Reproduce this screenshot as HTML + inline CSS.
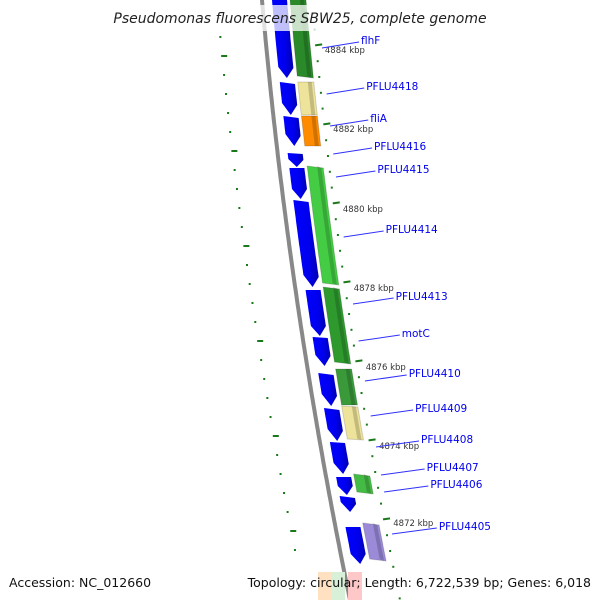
<!DOCTYPE html>
<html><head><meta charset="utf-8"><style>
body{margin:0;background:#fff;}
svg{display:block;font-family:"DejaVu Sans","Liberation Sans",sans-serif;}
</style></head><body>
<svg id="map" width="600" height="600" viewBox="0 0 600 600">
<defs>
<linearGradient id="gb" x1="0" x2="1"><stop offset="0" stop-color="#0000ff"/><stop offset="0.6" stop-color="#0000ee"/><stop offset="1" stop-color="#0000b0"/></linearGradient>
</defs>
<g id="layer"></g>
<rect x="110" y="5" width="380" height="26" fill="#fff" opacity="0.75"/>
<text x="300" y="23" text-anchor="middle" font-size="14" font-style="italic" fill="#222">Pseudomonas fluorescens SBW25, complete genome</text>
<text x="9" y="587" font-size="12.5" fill="#111">Accession: NC_012660</text>
<text x="591" y="587" text-anchor="end" font-size="12.5" fill="#111">Topology: circular; Length: 6,722,539 bp; Genes: 6,018</text>
</svg>
<script>
const geneStarts=[-5,82,116,153,168,200,290,337,373,408,442,477,496,527];
const geneEnds=[78,115,146,167,199,287,336,366,406,441,474,495,512,564];
const featStarts=[-5,82,116,166,287,369,406,474,523];
const featEnds=[78,115,146,285,364,405,440,494,561];
const featColors=["#2a8a2a","#eee39a","#ff8c00","#44cc44","#2e9a2e","#3a9a3a","#eee39a","#44bb44","#9a8ad8"];
const labels=["flhF","PFLU4418","fliA","PFLU4416","PFLU4415","PFLU4414","PFLU4413","motC","PFLU4410","PFLU4409","PFLU4408","PFLU4407","PFLU4406","PFLU4405"];
const labelY=[44,90,122,150,173,233,300,337,377,412,443,471,488,530];
const kbpLabels=["4884 kbp","4882 kbp","4880 kbp","4878 kbp","4876 kbp","4874 kbp","4872 kbp"];
const kbpY=[53,132,212,291,370,449,526];
const NS="http://www.w3.org/2000/svg";
const L=document.getElementById('layer');
function X(y){return 262+0.0867*y+0.0001*y*y;}
function mk(t,a){const e=document.createElementNS(NS,t);for(const k in a)e.setAttribute(k,a[k]);L.appendChild(e);return e;}
// backbone
let d="";for(let y=-5;y<=605;y+=5){d+=(y<0?"M":"L")+(X(y)).toFixed(1)+","+y+" ";}
let bb=mk('path',{d:d,stroke:"#888",'stroke-width':4,fill:"none"});


function band(y0,y1,o0,o1,arrow){
  let pts=[];
  const tip=arrow?Math.min(10,(y1-y0)/2):0;
  for(let y=y0;y<=y1-tip;y+=3)pts.push([X(y)+o0,y]);
  if(arrow){pts.push([X(y1)+(o0+o1)/2,y1]);}
  for(let y=y1-tip;y>=y0;y-=3)pts.push([X(y)+o1,y]);
  return pts.map(p=>p[0].toFixed(1)+","+p[1].toFixed(1)).join(" ");
}
geneStarts.forEach((s,i)=>{
  const p=mk('polygon',{points:band(s,geneEnds[i],10,25,true),fill:"url(#gb)"});
  
  
});
featStarts.forEach((s,i)=>{
  const p=mk('polygon',{points:band(s,featEnds[i],28,44,false),fill:featColors[i],stroke:"rgba(0,0,0,0.15)"});
  
  
  const h=mk('polygon',{points:band(s,featEnds[i],38,42,false),fill:"rgba(0,0,0,0.18)"});
  
  
});
// bottom partial features
[["#ffe0c0",318,334],["#d8f0d8",332,345],["#ffc8c8",348,362]].forEach((c)=>{
  const r=mk('rect',{x:c[1],y:572,width:c[2]-c[1],height:28,fill:c[0]});
  
  
});
// tick dots right
for(let y=-2;y<600;y+=15.8){
  const major=kbpY.some(k=>Math.abs(k-4-y)<6);
  const x=X(y)+49;
  const t=mk('line',{x1:x,y1:y,x2:x+(major?7:2),y2:y-(major?1:0),stroke:"#1a7a1a",'stroke-width':2});
  
  
}
// tick dots left
let c=0;
for(let y=-1;y<560;y+=19,c++){
  const major=c%5==3;
  const x=X(y)-46;
  const t=mk('line',{x1:x,y1:y,x2:x+(major?6:2),y2:y,stroke:"#1a7a1a",'stroke-width':2});
  
  
}
kbpLabels.forEach((k,i)=>{
  const y=kbpY[i];
  const t=mk('text',{x:X(y)+58,y:y,'font-size':8.5,fill:"#333"});t.textContent=k;
  
  
});
labels.forEach((n,i)=>{
  const y=labelY[i];
  const tx=X(y)+55+i*0.6+ (i<2?40:40);
  const l=mk('line',{x1:X(y)+56,y1:y+4,x2:tx-2,y2:y-2,stroke:"#3030ff",'stroke-width':1});
  
  
  const t=mk('text',{x:tx,y:y,'font-size':10.5,fill:"#0000ee"});t.textContent=n;
  
  
});
</script>
</body></html>
